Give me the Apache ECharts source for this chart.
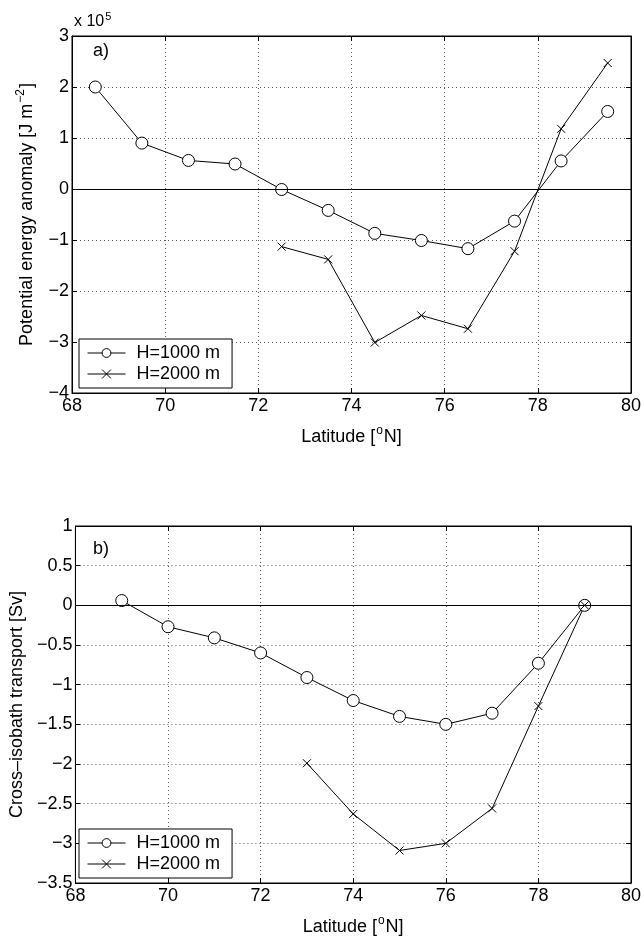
<!DOCTYPE html>
<html>
<head>
<meta charset="utf-8">
<script src="https://cdn.jsdelivr.net/npm/echarts@6/dist/echarts.min.js"></script>
<style>
html,body{margin:0;padding:0;background:#fff;}
#chart{width:644px;height:937px;}
</style>
</head>
<body>
<div id="chart"></div>
<script>
// ---- Data (panel a: potential energy anomaly, units of 1e5 J m^-2) ----
var latA1000 = [68.5, 69.5, 70.5, 71.5, 72.5, 73.5, 74.5, 75.5, 76.5, 77.5, 78.5, 79.5];
var peA1000  = [2.00, 0.90, 0.56, 0.49, -0.01, -0.42, -0.87, -1.01, -1.17, -0.63, 0.55, 1.52];
var latA2000 = [72.5, 73.5, 74.5, 75.5, 76.5, 77.5, 78.5, 79.5];
var peA2000  = [-1.13, -1.38, -3.01, -2.48, -2.74, -1.22, 1.18, 2.47];

// ---- Data (panel b: cross-isobath transport, Sv) ----
var latB1000 = [69, 70, 71, 72, 73, 74, 75, 76, 77, 78, 79];
var trB1000  = [0.06, -0.27, -0.41, -0.60, -0.91, -1.20, -1.40, -1.50, -1.36, -0.73, 0.00];
var latB2000 = [73, 74, 75, 76, 77, 78, 79];
var trB2000  = [-1.99, -2.63, -3.09, -3.00, -2.56, -1.27, 0.00];

var seriesNames = ['H=1000 m', 'H=2000 m'];
var xTicks = {min: 68, max: 80, interval: 2};
var yTicksA = {min: -4, max: 3, interval: 1};
var yTicksB = {min: -3.5, max: 1, interval: 0.5};

function pairs(xs, ys) { return xs.map(function (x, i) { return [x, ys[i]]; }); }
function minusFmt(v) { return String(v).replace('-', '\u2212'); }

var FONT = 'Liberation Sans, Arial, Helvetica, sans-serif';
var FS = 18;
var crossPath = 'path://M0,0L10,10M0,10L10,0';
var dotted = {color: '#555', width: 1, type: [1, 3]};

function richStyles() {
  return {
    a: {fontSize: FS, fontFamily: FONT, color: '#000', verticalAlign: 'bottom'},
    s: {fontSize: 12, fontFamily: FONT, color: '#000', verticalAlign: 'bottom', padding: [0, 1, 9, 1]}
  };
}

function makeX(grid, bottom) {
  return {
    type: 'value', gridIndex: grid, position: bottom ? 'bottom' : 'top',
    min: xTicks.min, max: xTicks.max, interval: xTicks.interval,
    axisLine: {show: true, onZero: false, lineStyle: {color: '#000', width: 1}},
    axisTick: {show: true, inside: true, length: 5, lineStyle: {color: '#000'}},
    axisLabel: {show: bottom, color: '#000', fontSize: FS, fontFamily: FONT, margin: 4},
    splitLine: {show: bottom, lineStyle: dotted},
    name: bottom ? '{a|Latitude [}{s|o}{a|N]}' : '',
    nameLocation: 'middle', nameGap: 32,
    nameTextStyle: {color: '#000', fontFamily: FONT, rich: richStyles()}
  };
}
function makeY(grid, left, ticks, name, gap) {
  return {
    type: 'value', gridIndex: grid, position: left ? 'left' : 'right',
    min: ticks.min, max: ticks.max, interval: ticks.interval,
    axisLine: {show: true, onZero: false, lineStyle: {color: '#000', width: 1}},
    axisTick: {show: true, inside: true, length: 5, lineStyle: {color: '#000'}},
    axisLabel: {show: left, color: '#000', fontSize: FS, fontFamily: FONT, margin: 3, formatter: minusFmt},
    splitLine: {show: left, lineStyle: dotted},
    name: left ? name : '',
    nameLocation: 'middle', nameRotate: 90, nameGap: gap,
    nameTextStyle: {color: '#000', fontFamily: FONT, rich: richStyles()}
  };
}

function lineSeries(name, xi, yi, data, isCross, withZero) {
  var s = {
    name: name, type: 'line', xAxisIndex: xi, yAxisIndex: yi,
    data: data,
    symbol: isCross ? crossPath : 'circle',
    symbolSize: isCross ? 8 : 12,
    showAllSymbol: true,
    lineStyle: {color: '#000', width: 1},
    itemStyle: isCross ? {color: '#000', borderColor: '#000', borderWidth: 1} : {color: '#fff', borderColor: '#000', borderWidth: 1},
    emphasis: {disabled: true},
    z: 3,
    animation: false
  };
  if (withZero) {
    s.markLine = {
      silent: true, symbol: ['none', 'none'], label: {show: false},
      lineStyle: {color: '#000', width: 1, type: 'solid'},
      data: [{yAxis: 0}], animation: false
    };
  }
  return s;
}

function makeLegend(top) {
  return {
    orient: 'vertical', left: 79, top: top,
    data: seriesNames,
    itemWidth: 38, itemHeight: 11, itemGap: 3,
    padding: [5, 12, 5, 8],
    borderColor: '#000', borderWidth: 1, backgroundColor: '#fff',
    lineStyle: {width: 1, color: '#000'},
    itemStyle: {borderWidth: 1},
    textStyle: {color: '#000', fontSize: FS, fontFamily: FONT, padding: [0, 0, 0, 6]},
    selectedMode: false
  };
}

var option = {
  animation: false,
  backgroundColor: '#fff',
  grid: [
    {left: 72, top: 36, width: 561, height: 357, show: true, borderColor: '#000', borderWidth: 1, backgroundColor: 'transparent'},
    {left: 72, top: 526, width: 561, height: 357, show: true, borderColor: '#000', borderWidth: 1, backgroundColor: 'transparent'}
  ],
  xAxis: [makeX(0, true), makeX(0, false), makeX(1, true), makeX(1, false)],
  yAxis: [
    makeY(0, true, yTicksA, '{a|Potential energy anomaly [J m}{s|\u22122}{a|]}', 36),
    makeY(0, false, yTicksA, '', 0),
    makeY(1, true, yTicksB, '{a|Cross\u2013isobath transport [Sv]}', 48),
    makeY(1, false, yTicksB, '', 0)
  ],
  legend: [makeLegend(339), makeLegend(829)],
  graphic: [
    {type: 'text', left: 74, top: 11, style: {rich: {a: {fontSize: 16, fontFamily: FONT, fill: '#000', verticalAlign: 'bottom'}, s: {fontSize: 11, fontFamily: FONT, fill: '#000', verticalAlign: 'bottom', padding: [0, 0, 8, 1]}}, text: '{a|x 10}{s|5}', fill: '#000'}},
    {type: 'text', left: 93, top: 42, style: {text: 'a)', fontSize: FS, fontFamily: FONT, fill: '#000'}},
    {type: 'text', left: 93, top: 540, style: {text: 'b)', fontSize: FS, fontFamily: FONT, fill: '#000'}}
  ],
  series: [
    lineSeries(seriesNames[0], 0, 0, pairs(latA1000, peA1000), false, true),
    lineSeries(seriesNames[1], 0, 0, pairs(latA2000, peA2000), true, false),
    lineSeries(seriesNames[0], 2, 2, pairs(latB1000, trB1000), false, true),
    lineSeries(seriesNames[1], 2, 2, pairs(latB2000, trB2000), true, false)
  ]
};

var chart = echarts.init(document.getElementById('chart'), null, {renderer: 'canvas'});
chart.setOption(option);
</script>
</body>
</html>
